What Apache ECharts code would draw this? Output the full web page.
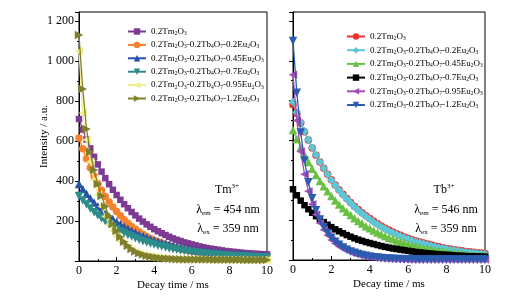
<!DOCTYPE html>
<html><head><meta charset="utf-8">
<script src="https://cdn.jsdelivr.net/npm/echarts@6/dist/echarts.min.js"></script>
<style>html,body{margin:0;padding:0;background:#fff}#c{width:524px;height:298px}</style>
</head><body><div id="c"></div>
<script>
// decay time (ms)
const times = [0,0.2,0.4,0.6,0.8,1,1.2,1.4,1.6,1.8,2,2.2,2.4,2.6,2.8,3,3.2,3.4,3.6,3.8,4,4.2,4.4,4.6,4.8,5,5.2,5.4,5.6,5.8,6,6.2,6.4,6.6,6.8,7,7.2,7.4,7.6,7.8,8,8.2,8.4,8.6,8.8,9,9.2,9.4,9.6,9.8,10];
const xTicks = [0,2,4,6,8,10];
const yTicks = [200,400,600,800,1000,1200];

// Tm3+ panel (left)
const tmPurple = [710,657,608,563,521,483,447,414,384,356,330,306,284,264,245,228,212,197,183,171,159,149,139,130,121,113,106,100,93,88,83,78,73,69,65,62,59,56,53,50,48,46,44,42,40,39,37,36,35,34,33];
const tmOrange = [615,561,511,466,425,388,354,323,295,270,247,226,206,189,173,159,146,134,123,113,104,96,89,82,76,71,66,61,57,53,50,46,44,41,39,36,35,33,31,30,28,27,26,25,24,23,23,22,21,21,20];
const tmBlue = [385,360,336,314,293,274,256,239,224,210,196,184,172,161,151,142,133,125,117,110,104,98,92,87,82,77,73,69,65,62,58,55,53,50,48,45,43,41,40,38,36,35,33,32,31,30,29,28,27,26,25];
const tmTeal = [325,303,282,262,244,227,212,198,184,172,160,149,140,130,122,114,106,99,93,87,82,76,72,67,63,59,56,53,50,47,44,42,39,37,35,34,32,30,29,28,26,25,24,23,22,21,20,20,19,18,18];
const tmYellow = [1050,740,606,496,406,333,272,223,183,150,122,100,82,67,55,45,37,31,26,22,19,16,14,12,11,10,9,9,8,8,8,8,7,7,7,7,7,6,6,6,6,6,6,6,5,5,5,5,5,5,5];
const tmOlive = [1130,860,660,545,455,385,325,272,225,185,150,120,96,76,60,48,39,32,26,22,19,16,14,12,11,10,9,9,8,8,7,7,7,7,7,7,6,6,6,6,6,6,6,6,5,5,5,5,5,5,5];

// Tb3+ panel (right)
const tbRed = [780,735,688,644,602,562,526,492,460,431,403,377,353,330,309,289,270,253,237,222,208,195,182,171,160,150,141,132,124,116,109,102,96,90,85,80,75,70,66,62,58,55,52,49,46,43,41,39,37,35,33];
const tbCyan = [795,742,693,647,604,564,527,492,460,430,401,375,350,327,306,286,267,249,233,218,204,190,178,167,156,146,136,128,119,112,105,98,92,86,81,76,71,66,62,59,55,52,49,46,43,40,38,36,34,32,30];
const tbGreen = [653,608,566,528,492,458,427,397,370,345,321,299,279,260,242,226,210,196,183,170,159,148,138,129,120,112,105,98,91,85,79,74,69,65,60,56,53,49,46,43,40,38,35,33,31,29,27,26,24,23,21];
const tbBlack = [355,325,298,275,255,237,220,204,190,177,165,154,144,134,125,117,109,102,96,90,85,80,75,70,66,62,58,55,52,49,46,43,40,38,36,34,32,30,29,27,26,25,23,22,21,20,19,19,18,17,17];
const tbPurple = [930,700,545,430,345,280,228,186,152,124,101,83,68,56,46,38,31,26,21,18,15,12,10,9,7,6,5,5,4,4,3,3,3,3,3,3,3,3,3,3,3,3,3,3,3,3,3,3,3,3,3];
const tbBlue = [1100,840,640,500,390,310,250,203,166,136,112,92,76,63,52,43,36,30,25,21,17,14,12,10,8,7,6,5,5,4,4,4,3,3,3,3,3,3,3,3,3,3,3,3,3,3,3,3,3,3,3];

const legendLabels = [
  '0.2Tm{s|2}O{s|3}',
  '0.2Tm{s|2}O{s|3}-0.2Tb{s|4}O{s|7}-0.2Eu{s|2}O{s|3}',
  '0.2Tm{s|2}O{s|3}-0.2Tb{s|4}O{s|7}-0.45Eu{s|2}O{s|3}',
  '0.2Tm{s|2}O{s|3}-0.2Tb{s|4}O{s|7}-0.7Eu{s|2}O{s|3}',
  '0.2Tm{s|2}O{s|3}-0.2Tb{s|4}O{s|7}-0.95Eu{s|2}O{s|3}',
  '0.2Tm{s|2}O{s|3}-0.2Tb{s|4}O{s|7}-1.2Eu{s|2}O{s|3}'
];

const FONT = 'Liberation Serif';
const leftSpec = [
  {v: tmPurple, c: '#7d3a93', sym: 'rect', rot: 0},
  {v: tmOrange, c: '#f7822e', sym: 'circle', rot: 0},
  {v: tmBlue, c: '#2452a8', sym: 'triangle', rot: 0},
  {v: tmTeal, c: '#2c8c8a', sym: 'triangle', rot: 180},
  {v: tmYellow, c: '#eeee8a', sym: 'triangle', rot: 90},
  {v: tmOlive, c: '#7f7f2c', sym: 'triangle', rot: -90}
];
const rightSpec = [
  {v: tbRed, c: '#ee2f2f', sym: 'circle', rot: 0},
  {v: tbCyan, c: '#5cc7d6', sym: 'diamond', rot: 0},
  {v: tbGreen, c: '#68c142', sym: 'triangle', rot: 0},
  {v: tbBlack, c: '#000000', sym: 'rect', rot: 0},
  {v: tbPurple, c: '#a44bb4', sym: 'triangle', rot: 90},
  {v: tbBlue, c: '#2a5db0', sym: 'triangle', rot: 180}
];
const symSize = {rect: 6.5, circle: 7.5, triangle: 8.5, diamond: 8.5};

const labelMap = {};
const series = [];
function addSeries(spec, prefix, axis) {
  const names = [];
  spec.forEach((s, i) => {
    const name = prefix + i;
    names.push(name);
    labelMap[name] = legendLabels[i];
    series.push({
      type: 'line', name: name, xAxisIndex: axis, yAxisIndex: axis,
      data: times.map((t, k) => [t, s.v[k]]),
      symbol: s.sym, symbolRotate: s.rot, symbolSize: symSize[s.sym],
      showSymbol: true, clip: true,
      lineStyle: {color: s.c, width: 1.3},
      itemStyle: {color: s.c, borderWidth: 0},
      z: 2 + i, animation: false
    });
  });
  return names;
}
const leftNames = addSeries(leftSpec, 'a', 0);
const rightNames = addSeries(rightSpec, 'b', 1);

function fmtY(v) {
  if (v <= 0 || yTicks.indexOf(v) < 0) return '';
  return v >= 1000 ? Math.floor(v / 1000) + ' ' + String(v % 1000).padStart(3, '0') : String(v);
}
const axisCommon = {
  axisLine: {show: true, lineStyle: {color: '#000', width: 1}},
  splitLine: {show: false}
};
function xAxis(idx) {
  return Object.assign({}, axisCommon, {
    type: 'value', gridIndex: idx, min: 0, max: 10, interval: 2,
    name: 'Decay time / ms', nameLocation: 'middle', nameGap: 19, nameMoveOverlap: false,
    nameTextStyle: {fontFamily: FONT, fontSize: 11, color: '#000'},
    axisTick: {show: true, inside: true, length: 4, lineStyle: {color: '#000'}},
    minorTick: {show: true, splitNumber: 2, length: 2, lineStyle: {color: '#000'}},
    axisLabel: {fontFamily: FONT, fontSize: 12, color: '#000', margin: 4,
      formatter: v => xTicks.indexOf(v) >= 0 ? String(v) : ''}
  });
}
function yAxis(idx, showLabels) {
  return Object.assign({}, axisCommon, {
    type: 'value', gridIndex: idx, min: 0, max: 1245, interval: 200,
    name: showLabels ? 'Intensity / a.u.' : '', nameLocation: 'middle', nameGap: 29, nameMoveOverlap: false,
    nameTextStyle: {fontFamily: FONT, fontSize: 11, color: '#000'},
    axisTick: {show: true, inside: false, length: 4, lineStyle: {color: '#000'}},
    minorTick: {show: true, splitNumber: 2, length: 2, lineStyle: {color: '#000'}},
    axisLabel: {show: showLabels, fontFamily: FONT, fontSize: 12, color: '#000', margin: 5, formatter: fmtY}
  });
}
const legendText = {
  fontFamily: FONT, fontSize: 9, color: '#000',
  rich: {s: {fontFamily: FONT, fontSize: 5.5, padding: [4, 0, 0, 0], color: '#000'}}
};
function legend(names, left, top, gap) {
  return {
    orient: 'vertical', left: left, top: top, data: names,
    itemWidth: 18, itemHeight: 8, itemGap: gap, padding: 0,
    formatter: n => labelMap[n], textStyle: legendText
  };
}
const txtRich = {
  sup: {fontFamily: FONT, fontSize: 7, padding: [0, 0, 7, 0], color: '#000'},
  sb: {fontFamily: FONT, fontSize: 7, padding: [7, 0, 0, 0], color: '#000'},
  n: {fontFamily: FONT, fontSize: 12, color: '#000'}
};
function label(x, y, text) {
  return {type: 'text', x: x, y: y, z: 100,
    style: {text: text, fill: '#000', fontFamily: FONT, fontSize: 12, align: 'center', verticalAlign: 'middle', rich: txtRich}};
}

const option = {
  backgroundColor: '#fff',
  animation: false,
  grid: [
    {left: 79, top: 12, width: 188, height: 249, show: true, borderColor: '#000', borderWidth: 1},
    {left: 293, top: 12, width: 192, height: 248, show: true, borderColor: '#000', borderWidth: 1}
  ],
  xAxis: [xAxis(0), xAxis(1)],
  yAxis: [yAxis(0, true), yAxis(1, false)],
  legend: [legend(leftNames, 127, 27, 3.9), legend(rightNames, 346, 32, 4.2)],
  series: series,
  graphic: [
    label(227, 190, '{n|Tm}{sup|3+}'),
    label(228, 210, '{n|λ}{sb|em}{n| = 454 nm}'),
    label(228, 229, '{n|λ}{sb|ex}{n| = 359 nm}'),
    label(444, 190, '{n|Tb}{sup|3+}'),
    label(446, 210, '{n|λ}{sb|em}{n| = 546 nm}'),
    label(446, 229, '{n|λ}{sb|ex}{n| = 359 nm}')
  ]
};
const chart = echarts.init(document.getElementById('c'), null, {renderer: 'canvas'});
chart.setOption(option);
</script>
</body></html>
